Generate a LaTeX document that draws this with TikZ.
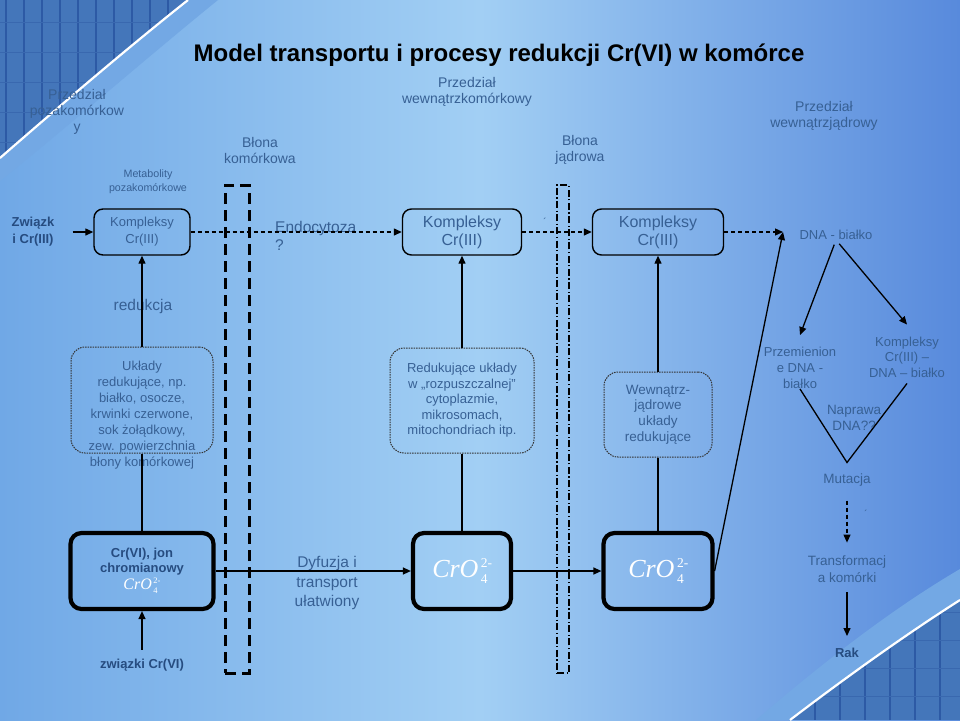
\documentclass[tikz,border=0pt]{standalone}
\usepackage{fontspec}
\setmainfont{Liberation Sans}
\newfontfamily\timesfont{Liberation Serif}
\usetikzlibrary{arrows.meta}
\definecolor{lbl}{RGB}{55,96,148}
\definecolor{lblb}{RGB}{38,76,128}
\definecolor{bgL}{RGB}{112,168,230}
\definecolor{bgM}{RGB}{162,207,244}
\definecolor{bgR}{RGB}{88,138,220}
\definecolor{dkblue}{RGB}{68,118,186}
\definecolor{gridblue}{RGB}{45,90,165}
\definecolor{bandblue}{RGB}{115,168,228}
\newcommand{\fs}[2]{\fontsize{#1}{#2}\selectfont}
\newcommand{\croA}{{\timesfont\mdseries\color{white}\fs{26}{26}\textit{CrO}\kern2.5pt\rlap{\raisebox{10.5pt}{\fs{13.5}{13.5}2-}}\raisebox{-5.5pt}{\fs{13.5}{13.5}4}\kern4pt}}
\newcommand{\croS}{{\timesfont\mdseries\color{white}\fs{16}{16}\textit{CrO}\kern1.5pt\rlap{\raisebox{6.5pt}{\fs{8.5}{8.5}2-}}\raisebox{-3.5pt}{\fs{8.5}{8.5}4}\kern3pt}}
\tikzset{
  lab/.style={text=lbl, align=center, inner sep=0pt},
  kbox/.style={draw=black, line width=1.4pt, rounded corners=9pt, inner sep=0pt, text=lbl, align=center},
  rbox/.style={draw=black!80, line width=1pt, dash pattern=on 1.5pt off 1pt, rounded corners=14pt, inner sep=0pt, text=lbl, align=center},
  bbox/.style={draw=black, line width=4.2pt, rounded corners=11pt, inner sep=0pt, align=center},
  arr/.style={-{Triangle[length=8pt,width=7pt]}, line width=1.3pt},
  darr/.style={arr, dash pattern=on 4pt off 3pt},
  conn/.style={line width=1.3pt},
  cellmem/.style={draw=black, line width=3pt, dash pattern=on 11pt off 6pt, inner sep=0pt},
  nucmem/.style={draw=black, line width=2pt, dash pattern=on 7pt off 2.5pt on 1.2pt off 2.5pt, inner sep=0pt},
}
\begin{document}
\begin{tikzpicture}[x=1pt,y=-1pt]
\useasboundingbox (0,0) rectangle (960,720);
\shade[left color=bgL, right color=bgR, middle color=bgM] (0,0) rectangle (960,720);
% top-left decoration
\fill[bandblue] (0,0) -- (218,0) .. controls (150,55) and (70,125) .. (0,181) -- cycle;
\begin{scope}
  \clip (0,0) -- (188,0) .. controls (125,50) and (55,110) .. (0,158) -- cycle;
  \fill[dkblue] (0,0) rectangle (200,170);
  \foreach \x in {6,24,...,200} \draw[gridblue, line width=2.5pt] (\x,0) -- (\x,170);
  \foreach \y in {22,52,...,170} \draw[gridblue!50!dkblue, line width=0.8pt] (0,\y) -- (200,\y);
\end{scope}
\draw[white, line width=2.2pt] (188,0) .. controls (125,50) and (55,110) .. (0,158);
% bottom-right decoration
\fill[bandblue] (756,720) .. controls (820,665) and (890,610) .. (960,569) -- (960,720) -- cycle;
\begin{scope}
  \clip (790,720) .. controls (845,678) and (905,635) .. (960,600) -- (960,720) -- cycle;
  \fill[dkblue] (780,590) rectangle (960,720);
  \foreach \x in {790,815,...,960} \draw[gridblue, line width=2.5pt] (\x,590) -- (\x,720);
  \foreach \y in {612,640,...,720} \draw[gridblue!50!dkblue, line width=0.8pt] (780,\y) -- (960,\y);
\end{scope}
\draw[white, line width=2.2pt] (790,720) .. controls (845,678) and (905,635) .. (960,600);

% title and region labels
\node[lab, font=\fs{24}{28}\bfseries, text=black] (title) at (499,55) {Model transportu i procesy redukcji Cr(VI) w komórce};
\node[lab, font=\fs{14}{16}] (pz) at (77,112) {Przedział\\pozakomórkow\\y};
\node[lab, font=\fs{10.7}{14}] (met) at (148,182) {Metabolity\\pozakomórkowe};
\node[lab, font=\fs{14}{16}] (bk) at (260,150) {Błona\\komórkowa};
\node[lab, font=\fs{14}{16}] (pw) at (467,92) {Przedział\\wewnątrzkomórkowy};
\node[lab, font=\fs{14}{16}] (bj) at (580,150) {Błona\\jądrowa};
\node[lab, font=\fs{14}{16}] (pj) at (824,116) {Przedział\\wewnątrzjądrowy};

% membranes
\node[cellmem, minimum width=24pt, minimum height=488pt] (cm) at (237,429) {};
\node[nucmem, minimum width=12pt, minimum height=488pt] (nm) at (563,429) {};

% boxes
\node[kbox, minimum width=96pt, minimum height=46pt, font=\fs{13}{17}] (k1) at (142,232) {Kompleksy\\Cr(III)};
\node[kbox, minimum width=119pt, minimum height=46pt, font=\fs{16}{18}] (k2) at (462,232) {Kompleksy\\Cr(III)};
\node[kbox, minimum width=131pt, minimum height=46pt, font=\fs{16}{18}] (k3) at (658,232) {Kompleksy\\Cr(III)};
\node[rbox, minimum width=142pt, minimum height=106pt] (r1) at (142,400) {};
\node[lab, font=\fs{13}{16}] (r1t) at (142,415) {Układy\\redukujące, np.\\białko, osocze,\\krwinki czerwone,\\sok żołądkowy,\\zew. powierzchnia\\błony komórkowej};
\node[rbox, minimum width=144pt, minimum height=105pt, font=\fs{13}{15.5}] (r2) at (462,400.5) {Redukujące układy\\w „rozpuszczalnej”\\cytoplazmie,\\mikrosomach,\\mitochondriach itp.};
\node[rbox, minimum width=108pt, minimum height=85pt, font=\fs{13.5}{15.7}] (r3) at (658,414.5) {Wewnątrz-\\jądrowe\\układy\\redukujące};
\node[bbox, minimum width=143pt, minimum height=76pt, font=\fs{13}{15}\bfseries, text=lblb] (b1) at (142,571) {Cr(VI), jon\\chromianowy\\[2pt]\croS};
\node[bbox, minimum width=98pt, minimum height=76pt] (b2) at (462,571) {\croA};
\node[bbox, minimum width=109pt, minimum height=76pt] (b3) at (658,571) {\croA};

% other labels
\node[lab, font=\fs{13}{17}\bfseries, text=lblb] (zw) at (33,232) {Związk\\i Cr(III)};
\node[lab, font=\fs{15.5}{18}, align=left, anchor=west] (endo) at (275,236) {Endocytoza\\?};
\node[lab, font=\fs{10}{10}] (acc1) at (545,222) {´};
\node[lab, font=\fs{13}{15}] (dna) at (836,235) {DNA - białko};
\node[lab, font=\fs{13}{16}] (prz) at (800,368) {Przemienion\\e DNA -\\białko};
\node[lab, font=\fs{13}{15.5}] (kdb) at (907,357) {Kompleksy\\Cr(III) –\\DNA – białko};
\node[lab, font=\fs{13.5}{15.5}] (nap) at (854,418) {Naprawa\\DNA??};
\node[lab, font=\fs{13.5}{16}] (mut) at (847,480) {Mutacja};
\node[lab, font=\fs{10}{10}] (acc2) at (866,514) {´};
\node[lab, font=\fs{13.5}{16.5}] (tr) at (847,569) {Transformacj\\a komórki};
\node[lab, font=\fs{13}{15}\bfseries, text=lblb] (rak) at (847,653) {Rak};
\node[lab, font=\fs{15.5}{18}] (red) at (143,306) {redukcja};
\node[lab, font=\fs{15.5}{19.5}] (dyf) at (327,583) {Dyfuzja i\\transport\\ułatwiony};
\node[lab, font=\fs{13}{15}\bfseries, text=lblb] (zc) at (142,665) {związki Cr(VI)};

% connectors
\draw[arr, shorten <=18pt] (zw.east) -- (k1.west);
\draw[darr] (k1.east) -- (k2.west);
\draw[darr] (k2.east) -- (k3.west);
\coordinate (tip) at (783,232);
\draw[darr] (k3.east) -- (tip);
\draw[arr] (b3.east) -- (tip);
\draw[arr] (r1.north) -- (k1.south);
\draw[conn] (b1.north) -- (r1.south);
\draw[arr] (r2.north) -- (k2.south);
\draw[conn] (b2.north) -- (r2.south);
\draw[arr] (r3.north) -- (k3.south);
\draw[conn] (b3.north) -- (r3.south);
\draw[arr] (b1.east) -- (b2.west);
\draw[arr] (b2.east) -- (b3.west);
\draw[arr, shorten <=9pt] (zc.north) -- (b1.south);
\draw[arr, shorten <=5pt] (dna.south) -- ([yshift=12pt]prz.north);
\draw[arr, shorten <=5pt] (dna.south) -- ([yshift=12pt]kdb.north);
\draw[conn] (prz.south) -- ([yshift=11pt]mut.north) -- ([yshift=-6pt]kdb.south);
\draw[darr, line width=1.1pt, shorten <=14pt, shorten >=13pt] (mut.south) -- (tr.north);
\draw[arr, shorten <=10pt, shorten >=12pt] (tr.south) -- (rak.north);
\end{tikzpicture}
\end{document}
